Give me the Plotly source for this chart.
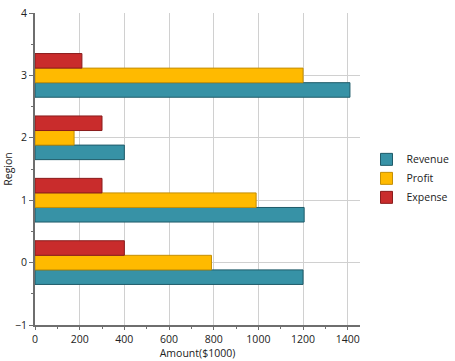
import plotly.graph_objects as go

regions = [0, 1, 2, 3]
revenue = [1200, 1205, 400, 1410]
profit = [790, 990, 175, 1200]
expense = [400, 300, 300, 210]

series = [
    ("Revenue", revenue, "#3792A6", "#1F5B69"),
    ("Profit", profit, "#FFBA00", "#C48F05"),
    ("Expense", expense, "#C92C2C", "#8A1C1C"),
]

fig = go.Figure()
for name, vals, col, border in series:
    fig.add_trace(go.Bar(
        y=regions, x=vals, name=name, orientation="h",
        marker=dict(color=col, line=dict(color=border, width=1)),
    ))

font = "Open Sans, Noto Sans, sans-serif"
fig.update_layout(
    width=455, height=361,
    margin=dict(l=35, r=95, t=13, b=36, autoexpand=False),
    paper_bgcolor="white", plot_bgcolor="white",
    barmode="group", bargap=0.3, bargroupgap=0,
    font=dict(family=font, size=10.5, color="#222"),
    showlegend=True,
    legend=dict(x=1.02, xanchor="left", y=0.47, yanchor="middle",
                font=dict(size=10.5, color="#222"), tracegroupgap=0,
                bgcolor="rgba(0,0,0,0)"),
    xaxis=dict(
        range=[0, 1455], dtick=200, tick0=0, automargin=False,
        showgrid=True, gridcolor="#D0D0D0", gridwidth=1,
        showline=True, linecolor="#6E6E6E", linewidth=2,
        ticks="outside", ticklen=3, tickcolor="#6E6E6E",
        minor=dict(dtick=100, ticks="outside", ticklen=2, tickcolor="#6E6E6E", showgrid=False),
        zeroline=False,
        title=dict(text="Amount($1000)", standoff=0, font=dict(size=10.5)),
    ),
    yaxis=dict(
        range=[-1, 4], dtick=1, tick0=0, automargin=False,
        showgrid=True, gridcolor="#D0D0D0", gridwidth=1,
        showline=True, linecolor="#6E6E6E", linewidth=2,
        ticks="outside", ticklen=4, tickcolor="#6E6E6E",
        minor=dict(dtick=0.5, ticks="outside", ticklen=2, tickcolor="#6E6E6E", showgrid=False),
        zeroline=False,
        title=dict(text="Region", standoff=0, font=dict(size=10.5)),
    ),
)

fig.write_html("out.html", config={"displayModeBar": False},
               post_script="document.body.style.margin='0';")
